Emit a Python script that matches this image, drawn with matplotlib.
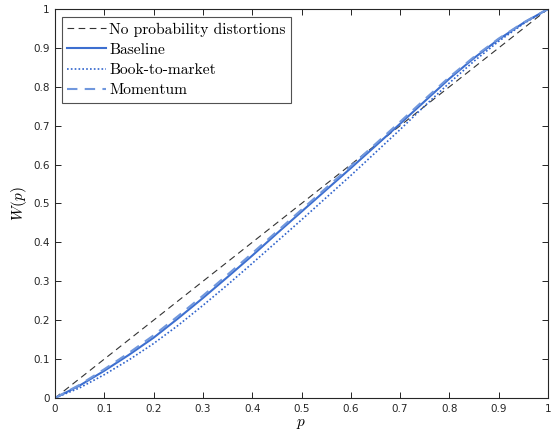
import matplotlib
matplotlib.use("Agg")
import matplotlib.pyplot as plt

p = [0.0, 0.05, 0.1, 0.15, 0.2, 0.25, 0.3, 0.35, 0.4, 0.45, 0.5,
     0.55, 0.6, 0.65, 0.7, 0.75, 0.8, 0.85, 0.9, 0.95, 1.0]
baseline = [0.0, 0.032, 0.070, 0.111, 0.155, 0.205, 0.257, 0.311, 0.366, 0.423, 0.479,
            0.535, 0.591, 0.648, 0.705, 0.763, 0.821, 0.874, 0.922, 0.964, 1.0]
book_to_market = [0.0, 0.026, 0.060, 0.098, 0.140, 0.187, 0.238, 0.291, 0.346, 0.402, 0.458,
                  0.515, 0.572, 0.631, 0.690, 0.751, 0.810, 0.866, 0.917, 0.962, 1.0]
momentum = [0.0, 0.034, 0.074, 0.116, 0.161, 0.211, 0.263, 0.317, 0.372, 0.428, 0.484,
            0.540, 0.596, 0.653, 0.710, 0.768, 0.825, 0.877, 0.924, 0.965, 1.0]
diag = [0.0, 1.0]
xticks = [0, 0.1, 0.2, 0.3, 0.4, 0.5, 0.6, 0.7, 0.8, 0.9, 1]
xticklabels = ["0", "0.1", "0.2", "0.3", "0.4", "0.5", "0.6", "0.7", "0.8", "0.9", "1"]

plt.rcParams['mathtext.fontset'] = 'cm'

fig = plt.figure(figsize=(5.59, 4.37), dpi=100)
ax = fig.add_axes([55/559, 39/437, 493/559, 389/437])

ax.plot(diag, diag, color='#333333', lw=0.8, dashes=(6, 4),
        label='No probability distortions')
ax.plot(p, baseline, color='#3d6fd0', lw=1.5, label='Baseline')
ax.plot(p, book_to_market, color='#2f63cc', lw=1.2, linestyle=(0, (1, 1.3)),
        label='Book-to-market')
ax.plot(p, momentum, color='#7097dd', lw=1.5, dashes=(5, 3.5), label='Momentum')

ax.set_xlim(0, 1)
ax.set_ylim(0, 1)
ax.set_xticks(xticks)
ax.set_xticklabels(xticklabels)
ax.set_yticks(xticks)
ax.set_yticklabels(xticklabels)
ax.tick_params(direction='in', top=True, right=True, length=4, width=0.6,
               labelsize=7.5, labelcolor='#262626', pad=4)
for s in ax.spines.values():
    s.set_linewidth(0.8)
    s.set_color('#262626')

ax.set_xlabel(r'$p$', fontsize=11, labelpad=2)
ax.set_ylabel(r'$W(p)$', fontsize=11, labelpad=3)

leg = ax.legend(loc='upper left', bbox_to_anchor=(0.014, 0.979),
                prop={'family': 'cmr10', 'size': 11.2}, frameon=True,
                fancybox=False, edgecolor='#262626', handlelength=2.5,
                handletextpad=0.2, borderpad=0.35, labelspacing=0.4,
                borderaxespad=0)
leg.get_frame().set_linewidth(0.8)

fig.savefig('out.png', dpi=100)
